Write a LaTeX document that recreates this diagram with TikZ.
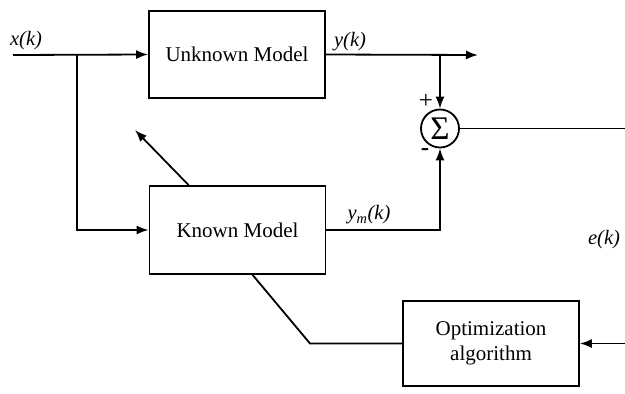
\documentclass[tikz,border=0pt]{standalone}
\usepackage{fontspec}
\setmainfont{Liberation Serif}
\usetikzlibrary{arrows.meta,calc}
\begin{document}
\begin{tikzpicture}[x=1pt,y=-1pt,
  line width=1.8pt,
  block/.style={draw,rectangle,minimum width=176pt,minimum height=87pt,
    align=center,font=\fontsize{21}{25}\selectfont},
  sumnode/.style={draw,circle,minimum size=38pt,inner sep=0pt,
    font=\fontsize{33}{34}\selectfont},
  lbl/.style={font=\fontsize{20.5}{22}\selectfont\itshape,inner sep=0pt},
  sgn/.style={font=\fontsize{25}{26}\selectfont,inner sep=0pt},
  arr/.style={-{Latex[length=12pt,width=9pt]}}]
\useasboundingbox (0,0) rectangle (625,394);

% blocks
\node[block] (unk) at (237,54.5) {Unknown Model};
\node[block,minimum height=88pt] (known) at (237.5,230) {Known Model};
\node[block,minimum height=85pt] (opt) at (491,343.5) {Optimization\\algorithm};
\node[sumnode] (sum) at (440,128.5) {Σ};

% free ends and branch points
\coordinate (in) at (13,55);
\coordinate (br1) at (77,55);
\coordinate (yout) at (478,55);
\coordinate (br2) at (440,55);
\coordinate (eout) at (625,128.5);
\coordinate (ein) at (625,343.5);
\coordinate (tune) at (135,130);
\coordinate (kn) at ($(known.north west)+(40,0)$);
\coordinate (ks) at ($(known.south west)+(104,0)$);
\coordinate (bend) at (310,343.5);

% signal paths
\draw[arr] (in) -- (unk.west);
\draw[arr] (br1) |- (known.west);
\draw[arr] (unk.east) -- (yout);
\draw[arr] (br2) -- (sum.north);
\draw[arr] (known.east) -| (sum.south);
\draw (sum.east) -- (eout);
\draw[arr] (ein) -- (opt.east);
\draw (opt.west) -- (bend) -- (ks);
\draw[arr] (kn) -- (tune);

% labels
\node[lbl] (lx) at (26,41) {x(k)};
\node[lbl] (ly) at (350,42) {y(k)};
\node[lbl] (lym) at (369,215) {y\textsubscript{m}(k)};
\node[lbl] (le) at (604,240) {e(k)};
\node[sgn] (plus) at (426,101) {+};
\node[sgn] (minus) at (425,152) {\textbf{-}};
\end{tikzpicture}
\end{document}
